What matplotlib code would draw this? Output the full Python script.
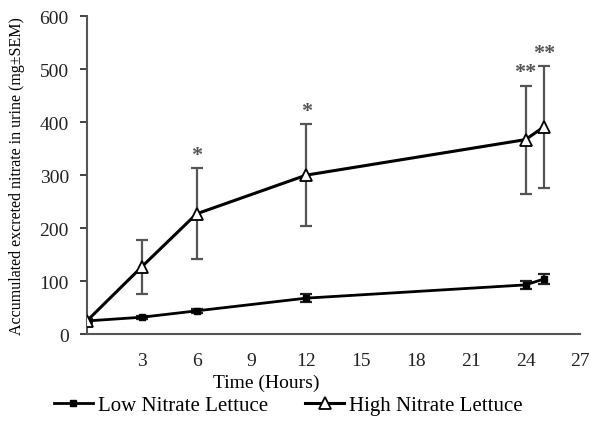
import matplotlib
matplotlib.use("Agg")
import matplotlib.pyplot as plt

plt.rcParams['font.family'] = ['Liberation Serif', 'DejaVu Serif']

hours = [0, 3, 6, 12, 24, 25]
low_vals = [25, 32, 44, 68, 93, 104]
low_err = [3, 3, 4, 7, 8, 10]
high_vals = [25, 127, 227, 300, 367, 391]
high_err = [0, 51, 86, 96, 102, 115]
stars = ['', '', '*', '*', '**', '**']
xticks = [3, 6, 9, 12, 15, 18, 21, 24, 27]
yticks = [0, 100, 200, 300, 400, 500, 600]

fig = plt.figure(figsize=(5.91, 4.27), dpi=100)
ax = fig.add_axes([0.147, 0.215, 0.835, 0.745])

ax.errorbar(hours, high_vals, yerr=high_err, fmt='none', ecolor='#555555',
            elinewidth=1.6, capsize=4, capthick=1.6, zorder=1)
ax.errorbar(hours, low_vals, yerr=low_err, fmt='none', ecolor='#222222',
            elinewidth=1.6, capsize=4, capthick=1.6, zorder=1)
l1, = ax.plot(hours, low_vals, color='black', lw=2, marker='s', ms=5,
              mfc='black', mec='black', zorder=3, label='Low Nitrate Lettuce')
l2, = ax.plot(hours, high_vals, color='black', lw=2.2, marker='^', ms=8,
              mfc='white', mec='black', mew=1.3, zorder=3, label='High Nitrate Lettuce')

for x, v, e, s in zip(hours, high_vals, high_err, stars):
    if s:
        ax.text(x, v + e + 6, s, ha='center', va='bottom', fontsize=16,
                color='#555555', fontweight='bold')

ax.set_xlim(0, 27)
ax.set_ylim(0, 600)
ax.set_xticks(xticks)
ax.set_yticks(yticks)
ax.tick_params(axis='x', length=0, labelsize=14, pad=13, colors='#222222')
ax.tick_params(axis='y', length=5, width=1.2, labelsize=14, colors='#222222',
               direction='out', pad=8)
for s in ['top', 'right']:
    ax.spines[s].set_visible(False)
for s in ['left', 'bottom']:
    ax.spines[s].set_color('#555555')
    ax.spines[s].set_linewidth(1.5)

ax.set_xlabel('Time (Hours)', fontsize=14)
ax.xaxis.set_label_coords(0.363, -0.125)
ax.set_ylabel('Accumulated excreted nitrate in urine (mg±SEM)', fontsize=11.5)
ax.yaxis.set_label_coords(-0.125, 0.5)

fig.legend(handles=[l1, l2], loc='center', bbox_to_anchor=(0.488, 0.048), ncol=2,
           frameon=False, fontsize=15, handlelength=1.85, handletextpad=0.25,
           columnspacing=1.8)

fig.savefig('out.png', dpi=100)
